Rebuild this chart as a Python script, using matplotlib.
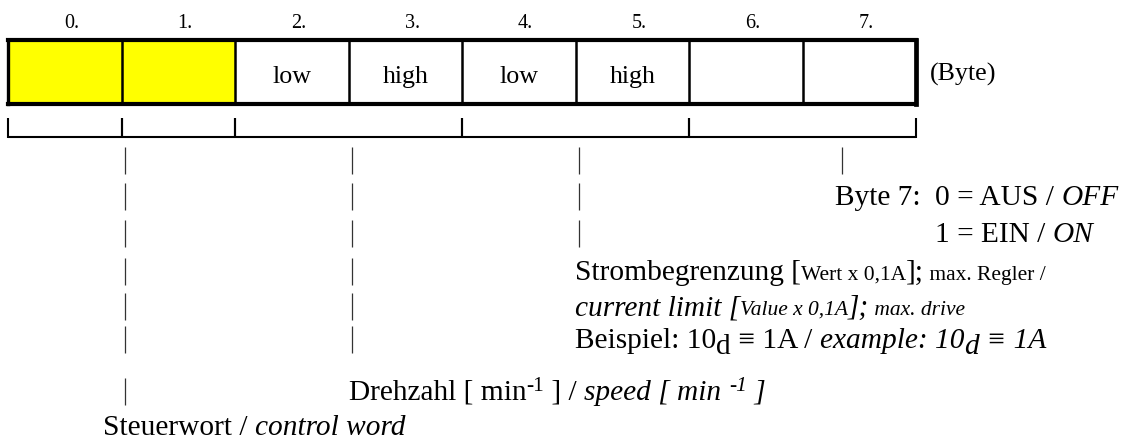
import matplotlib
matplotlib.use("Agg")
import matplotlib.pyplot as plt
from matplotlib.font_manager import FontProperties
from matplotlib.patches import Rectangle

# byte layout of the telegram
byte_labels = ["0.", "1.", "2.", "3.", "4.", "5.", "6.", "7."]
cell_labels = ["", "", "low", "high", "low", "high", "", ""]
highlighted = [0, 1]
groups = [(0, 1), (1, 2), (2, 4), (4, 6), (6, 8)]

# "|" leader columns (in byte units) and how many rows each runs down
pipe_columns = [1.0, 3.0, 5.0, 7.32]
pipe_rows = [7, 6, 3, 1]

# annotation lines: (text, size, italic, shift)
line_byte7_off = [("Byte 7:  ", "big", False, 0), ("0 = AUS / ", "big", False, 0), ("OFF", "big", True, 0)]
line_byte7_on = [("1 = EIN / ", "big", False, 0), ("ON", "big", True, 0)]
line_strom_de = [("Strombegrenzung [", "big", False, 0), ("Wert x 0,1A", "small", False, 0),
                 ("];", "big", False, 0), (" max. Regler /", "small", False, 0)]
line_strom_en = [("current limit [", "big", True, 0), ("Value x 0,1A", "small", True, 0),
                 ("];", "big", True, 0), (" max. drive", "small", True, 0)]
line_example = [("Beispiel: 10", "big", False, 0), ("d", "big", False, -6), (" \u2261 1A / ", "big", False, 0),
                ("example: 10", "big", True, 0), ("d", "big", True, -6), (" \u2261 1A", "big", True, 0)]
line_speed = [("Drehzahl [ min", "big", False, 0), ("-1", "small", False, 9), (" ] / ", "big", False, 0),
              ("speed [ min ", "big", True, 0), ("-1", "small", True, 9), (" ]", "big", True, 0)]
line_control = [("Steuerwort / ", "big", False, 0), ("control word", "big", True, 0)]

SERIF = ["Liberation Serif", "DejaVu Serif"]
SIZES = {"big": 21.2, "small": 15.5, "cell": 18.7, "num": 14.5}

X0, CELL_W = 8, 113.5
BOX_TOP, BOX_BOTTOM = 40, 104
BRACKET_Y, BRACKET_TOP = 137, 118
ROW_Y = [169, 205, 242, 280, 315, 348, 400, 435]

fig = plt.figure(figsize=(11.27, 4.46), dpi=100)
ax = fig.add_axes([0, 0, 1, 1])
ax.set_xlim(0, 1127)
ax.set_ylim(446, 0)
ax.axis("off")
renderer = fig.canvas.get_renderer()


def font(size, italic=False):
    return FontProperties(family=SERIF, size=SIZES[size], style="italic" if italic else "normal")


def text_width(s, prop):
    w1 = renderer.get_text_width_height_descent("x" + s + "x", prop, ismath=False)[0]
    w0 = renderer.get_text_width_height_descent("xx", prop, ismath=False)[0]
    return w1 - w0


def draw_runs(x, y, runs):
    for s, size, italic, shift in runs:
        prop = font(size, italic)
        ax.text(x, y - shift, s, fontproperties=prop, ha="left", va="baseline", color="black")
        x += text_width(s, prop)
    return x


def bx(i):
    return X0 + i * CELL_W


# cells
for i in highlighted:
    ax.add_patch(Rectangle((bx(i), BOX_TOP), CELL_W, BOX_BOTTOM - BOX_TOP, facecolor="#ffff00", edgecolor="none"))
for i in range(1, len(byte_labels)):
    ax.plot([bx(i), bx(i)], [BOX_TOP, BOX_BOTTOM], color="black", lw=1.8, solid_capstyle="butt")
ax.plot([bx(0), bx(8)], [BOX_TOP, BOX_TOP], color="black", lw=3.0, solid_capstyle="projecting")
ax.plot([bx(0), bx(8)], [BOX_BOTTOM, BOX_BOTTOM], color="black", lw=3.0, solid_capstyle="projecting")
ax.plot([bx(0), bx(0)], [BOX_TOP, BOX_BOTTOM], color="black", lw=2.4, solid_capstyle="projecting")
ax.plot([bx(8), bx(8)], [BOX_TOP, BOX_BOTTOM], color="black", lw=3.4, solid_capstyle="projecting")

for i, (num, lab) in enumerate(zip(byte_labels, cell_labels)):
    cx = bx(i) + CELL_W / 2
    ax.text(cx + 7, 28, num, fontproperties=font("num"), ha="center", va="baseline")
    if lab:
        ax.text(cx, 83, lab, fontproperties=font("cell"), ha="center", va="baseline")
ax.text(930, 81, "(Byte)", fontproperties=font("cell"), ha="left", va="baseline")

# brackets below the box
ax.plot([bx(0), bx(8)], [BRACKET_Y, BRACKET_Y], color="black", lw=1.5, solid_capstyle="butt")
for a, b in groups:
    for edge in (a, b):
        ax.plot([bx(edge), bx(edge)], [BRACKET_TOP, BRACKET_Y + 0.7], color="black", lw=1.5, solid_capstyle="butt")

# leader pipes
for col, n in zip(pipe_columns, pipe_rows):
    ys = ROW_Y[:n]
    ax.vlines([bx(col) + 3] * n, [y - 22 for y in ys], [y + 5 for y in ys], color="#333333", lw=0.9)

# annotations
draw_runs(835, ROW_Y[1], line_byte7_off)
x_zero = 835 + text_width(line_byte7_off[0][0], font("big"))
draw_runs(x_zero, ROW_Y[2], line_byte7_on)
draw_runs(575, ROW_Y[3], line_strom_de)
draw_runs(575, ROW_Y[4], line_strom_en)
draw_runs(575, ROW_Y[5], line_example)
draw_runs(349, ROW_Y[6], line_speed)
draw_runs(103, ROW_Y[7], line_control)

fig.savefig("out.png", dpi=100, facecolor="white")
